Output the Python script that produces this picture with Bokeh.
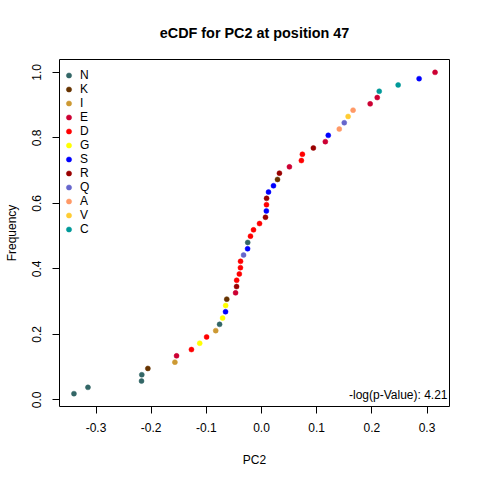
from bokeh.plotting import figure
from bokeh.models import Range1d, FixedTicker, PrintfTickFormatter, Legend, LegendItem, Label
from bokeh.embed import file_html
from bokeh.resources import INLINE

# ---- data ----
residues = ["N", "N", "N", "N", "K", "I", "E", "D", "G", "D", "I", "N", "G", "S", "G", "K",
            "E", "R", "D", "D", "D", "D", "Q", "S", "N", "D", "D", "D", "R", "S", "D", "R",
            "S", "S", "K", "R", "E", "D", "D", "R", "E", "S", "A", "Q", "V", "A", "E", "E",
            "C", "C", "S", "E"]
pc2 = [-0.340, -0.3146, -0.2175, -0.2170, -0.206, -0.157, -0.154, -0.127, -0.112, -0.0995,
       -0.083, -0.076, -0.0705, -0.0652, -0.0650, -0.063, -0.047, -0.0452, -0.0450, -0.0402,
       -0.0382, -0.0380, -0.0325, -0.0252, -0.0250, -0.020, -0.0145, -0.0036, 0.0072, 0.0088,
       0.0090, 0.0092, 0.0127, 0.0217, 0.029, 0.0325, 0.0506, 0.0723, 0.0741, 0.094,
       0.1157, 0.121, 0.141, 0.150, 0.157, 0.166, 0.197, 0.2098, 0.2134, 0.2477, 0.2857, 0.3146]
legend_order = ["N", "K", "I", "E", "D", "G", "S", "R", "Q", "A", "V", "C"]
legend_colors = ["#336666", "#663300", "#CC9933", "#CC0033", "#FF0000", "#FFFF00",
                 "#0000FF", "#990000", "#6666CC", "#FF9966", "#FFCC33", "#009999"]
x_ticks = [-0.3, -0.2, -0.1, 0.0, 0.1, 0.2, 0.3]
y_ticks = [0.0, 0.2, 0.4, 0.6, 0.8, 1.0]
title_text = "eCDF for PC2 at position 47"
pvalue_text = "-log(p-Value): 4.21"

# empirical CDF
n = len(pc2)
order = sorted(range(n), key=lambda i: pc2[i])
xs = [pc2[i] for i in order]
res = [residues[i] for i in order]
freq = [(k + 1) / n for k in range(n)]

def pad(lo, hi, f=0.04):
    d = (hi - lo) * f
    return lo - d, hi + d

xlo, xhi = pad(min(xs), max(xs))
ylo, yhi = pad(min(freq), max(freq))

FONT = "Liberation Sans"
FW, FH = 390, 347

p = figure(frame_width=FW, frame_height=FH, output_backend="svg", toolbar_location=None,
           x_range=Range1d(xlo, xhi), y_range=Range1d(ylo, yhi),
           min_border_left=59, min_border_right=22, min_border_top=59, min_border_bottom=66,
           background_fill_color="white", border_fill_color="white")
p.grid.visible = False
p.outline_line_color = "black"
p.outline_line_width = 1

p.title.text = title_text
p.title.align = "center"
p.title.text_font = FONT
p.title.text_font_size = "14.4px"
p.title.text_font_style = "bold"
p.title.text_color = "black"
p.title.standoff = 38

for ax in (p.xaxis[0], p.yaxis[0]):
    ax.axis_line_color = None
    ax.major_tick_out = 7
    ax.major_tick_in = 0
    ax.major_tick_line_color = "black"
    ax.minor_tick_line_color = None
    ax.major_label_text_font = FONT
    ax.major_label_text_font_size = "12px"
    ax.major_label_text_color = "black"
    ax.axis_label_text_font = FONT
    ax.axis_label_text_font_size = "12px"
    ax.axis_label_text_font_style = "normal"
    ax.axis_label_text_color = "black"
    ax.formatter = PrintfTickFormatter(format="%.1f")

p.xaxis[0].ticker = FixedTicker(ticks=x_ticks)
p.yaxis[0].ticker = FixedTicker(ticks=y_ticks)
p.xaxis[0].axis_label = "PC2"
p.yaxis[0].axis_label = "Frequency"
p.xaxis[0].major_label_standoff = 9
p.xaxis[0].axis_label_standoff = 18
p.yaxis[0].major_label_orientation = "vertical"
p.yaxis[0].major_label_standoff = 11
p.yaxis[0].axis_label_standoff = 11

items = []
for lab, col in zip(legend_order, legend_colors):
    sx = [x for x, r in zip(xs, res) if r == lab]
    sy = [y for y, r in zip(freq, res) if r == lab]
    r = p.scatter(sx, sy, size=5, fill_color=col, line_color=col, line_width=0.5)
    items.append(LegendItem(label=lab, renderers=[r]))

legend = Legend(items=items, location=(3, FH - 9 - 14 * len(items)), margin=0, padding=0,
                glyph_width=13, glyph_height=14, label_height=14, spacing=0,
                label_standoff=5, border_line_color=None, background_fill_alpha=0,
                label_text_font=FONT, label_text_font_size="12px", label_text_color="black")
p.add_layout(legend, "center")

p.add_layout(Label(x=FW - 2, y=12, x_units="screen", y_units="screen", text=pvalue_text,
                   text_align="right", text_baseline="middle", text_font=FONT,
                   text_font_size="12px", text_color="black"))

open("out.html", "w").write(file_html(p, INLINE))
